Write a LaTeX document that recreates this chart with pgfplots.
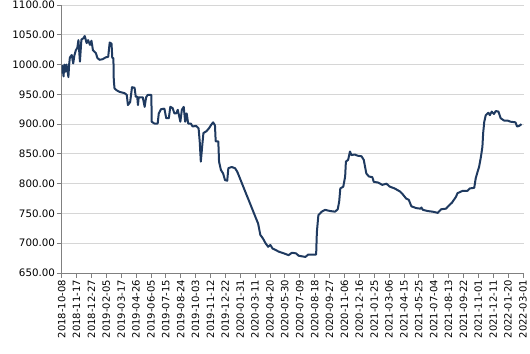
\documentclass[border=0pt]{standalone}
\usepackage{pgfplots}
\pgfplotsset{compat=1.18}
\usepackage{fontspec}
\setmainfont{DejaVu Sans}
\definecolor{linec}{RGB}{31,58,96}
\definecolor{axc}{RGB}{128,128,128}
\definecolor{gridc}{RGB}{214,214,214}
\begin{document}
\begin{tikzpicture}
\begin{axis}[
  name=ax,
  scale only axis, width=462bp, height=268bp,
  xmin=0, xmax=1242, ymin=650, ymax=1100,
  axis lines=left,
  axis line style={axc, line width=0.8bp, -},
  xtick={0,40,...,1240},
  xticklabels={2018-10-08,2018-11-17,2018-12-27,2019-02-05,2019-03-17,2019-04-26,2019-06-05,2019-07-15,2019-08-24,2019-10-03,2019-11-12,2019-12-22,2020-01-31,2020-03-11,2020-04-20,2020-05-30,2020-07-09,2020-08-18,2020-09-27,2020-11-06,2020-12-16,2021-01-25,2021-03-06,2021-04-15,2021-05-25,2021-07-04,2021-08-13,2021-09-22,2021-11-01,2021-12-11,2022-01-20,2022-03-01},
  ytick={650,700,...,1100},
  ymajorgrids, grid style={gridc, line width=0.8bp},
  tick align=outside, major tick length=4.5bp,
  tick style={axc, line width=0.8bp},
  xticklabel style={rotate=90, anchor=east, font=\fontsize{10bp}{12bp}\selectfont,
    inner xsep=2.5bp, inner ysep=0bp, text height=7.2bp, text depth=0bp},
  yticklabel style={font=\fontsize{10.3bp}{12bp}\selectfont, inner sep=2bp},
  /pgf/number format/.cd, fixed, fixed zerofill, precision=2, 1000 sep={}, assume math mode=true,
]
\addplot[linec, line width=2bp, line join=round] coordinates {
(0,985) (2,998) (5,980) (7,1000) (10,988) (13,1000) (18,979) (20,1000) (22,1012)
(27,1016) (31,1002) (34,1015) (38,1024) (42,1028) (45,1041) (49,1005) (53,1042)
(58,1044) (62,1048) (67,1036) (71,1041) (76,1033) (80,1040) (84,1024) (92,1019)
(96,1011) (102,1008) (110,1009) (118,1012) (125,1013) (129,1037) (134,1035)
(136,1011) (139,1011) (140,974) (142,960) (147,957) (156,954) (169,952) (175,949) (178,932)
(184,937) (189,962) (196,961) (199,946) (203,946) (205,932) (207,945) (209,945)
(218,945) (223,929) (227,945) (231,949) (241,949) (242,904) (249,901) (258,901)
(261,918) (267,925) (276,926) (281,910) (288,910) (292,929) (298,927) (303,918)
(308,918) (312,924) (319,904) (323,924) (328,929) (332,904) (336,918) (340,901)
(347,901) (352,896) (361,897) (368,893) (371,871) (374,837) (378,865) (381,885)
(389,888) (396,893) (401,898) (407,903) (412,898) (414,871) (421,871) (423,837)
(428,823) (434,817) (439,806) (445,805) (448,826) (457,828) (466,826) (472,820)
(528,733) (534,714) (541,708) (548,700) (555,694) (561,697) (567,691) (574,689)
(583,686) (597,683) (610,680) (619,684) (630,683) (637,679) (655,677) (663,681)
(684,681) (686,719) (690,747) (699,753) (708,756) (722,754) (735,753) (742,757)
(746,770) (749,792) (757,795) (762,812) (764,837) (770,840) (775,854) (779,848)
(788,849) (795,847) (806,846) (812,840) (819,817) (826,812) (835,811) (839,803)
(850,802) (862,798) (873,800) (882,795) (895,792) (909,787) (917,782) (926,775)
(933,773) (940,762) (953,759) (965,758) (967,760) (971,756) (984,754) (997,753)
(1011,751) (1020,757) (1033,758) (1042,764) (1049,768) (1060,778) (1064,784)
(1078,788) (1091,788) (1097,792) (1109,793) (1113,809) (1118,820) (1122,828)
(1127,845) (1131,862) (1133,885) (1136,904) (1140,915) (1147,919) (1151,915)
(1156,921) (1162,917) (1167,922) (1174,921) (1180,910) (1189,906) (1198,906)
(1207,904) (1220,903) (1224,896) (1230,897) (1236,900)
};
\end{axis}
\pgfresetboundingbox
\useasboundingbox ([xshift=-61.7bp,yshift=-81bp]ax.south west) rectangle ([xshift=6.3bp,yshift=5bp]ax.north east);
\end{tikzpicture}
\end{document}
